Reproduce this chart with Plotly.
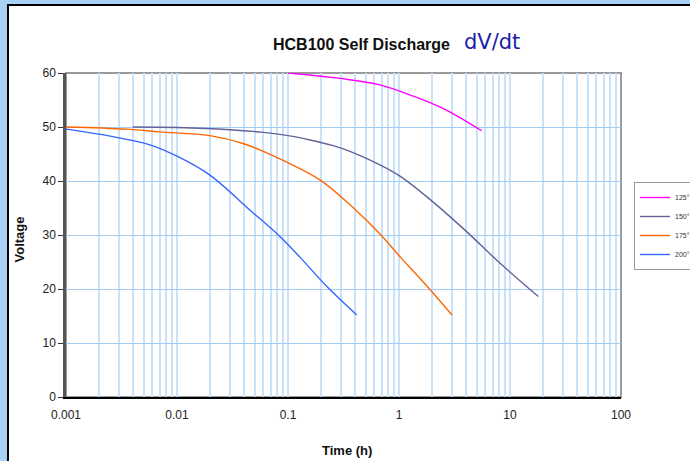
import plotly.graph_objects as go

# ---- data ----
t_125 = [0.1, 0.294, 0.674, 1.35, 2.69, 5.56]
v_125 = [60.0, 59.0, 57.8, 55.7, 53.1, 49.3]

t_150 = [0.004, 0.01, 0.03, 0.06, 0.1, 0.158, 0.25, 0.362, 0.674, 1.02, 1.9, 3.93, 8.1, 18.0]
v_150 = [50.0, 49.9, 49.5, 49.0, 48.4, 47.6, 46.6, 45.5, 43.0, 40.9, 36.6, 30.9, 24.8, 18.6]

t_175 = [0.001, 0.0035, 0.007, 0.0198, 0.04, 0.0973, 0.194, 0.362, 0.674, 1.02, 1.79, 3.0]
v_175 = [50.0, 49.6, 49.1, 48.4, 46.9, 43.5, 40.2, 35.6, 30.2, 26.0, 20.5, 15.2]

t_200 = [0.001, 0.0025, 0.0057, 0.01, 0.0198, 0.0455, 0.0818, 0.128, 0.223, 0.416]
v_200 = [49.6, 48.3, 46.7, 44.6, 41.1, 34.6, 30.0, 25.9, 20.5, 15.2]

series_names = ["125°", "150°", "175°", "200°"]
series_colors = ["#ff00ff", "#62629a", "#ff6600", "#3366ff"]

x_major = [0.001, 0.01, 0.1, 1, 10, 100]
x_major_labels = ["0.001", "0.01", "0.1", "1", "10", "100"]
x_minor = [m * d for d in [0.001, 0.01, 0.1, 1, 10] for m in range(2, 10)]
y_ticks = [0, 10, 20, 30, 40, 50, 60]

# ---- layout geometry ----
W, H = 690, 461
L, R, T, B = 66, 621, 73, 397
def px(x): return (x - L) / (R - L)
def py(y): return (B - y) / (B - T)

FONT = "Liberation Sans, Arial, sans-serif"
GRIDV = "#c9e2fa"
GRIDH = "#a3cdf6"

fig = go.Figure()
for t, v, n, c in zip([t_125, t_150, t_175, t_200], [v_125, v_150, v_175, v_200],
                      series_names, series_colors):
    fig.add_trace(go.Scatter(x=t, y=v, name=n, mode="lines",
                             line=dict(color=c, width=1.4, shape="spline", smoothing=1.0)))

fig.update_layout(
    width=W, height=H,
    margin=dict(l=L, r=W - R, t=T, b=H - B, pad=0, autoexpand=False),
    paper_bgcolor="white", plot_bgcolor="white",
    font=dict(family=FONT, size=12, color="#222"),
    showlegend=True,
    legend=dict(x=px(634), y=py(182), xanchor="left", yanchor="top",
                bordercolor="#9a9a9a", borderwidth=1, bgcolor="white",
                font=dict(size=7, color="#333"), itemwidth=30,
                tracegroupgap=0),
    xaxis=dict(type="log", range=[-3, 2], tickvals=x_major, ticktext=x_major_labels,
               showgrid=True, gridcolor=GRIDV, gridwidth=2,
               minor=dict(tickvals=x_minor, showgrid=True, gridcolor=GRIDV, gridwidth=2, ticks=""),
               showline=True, linecolor="#000", linewidth=1.5,
               ticks="", ticklabelstandoff=6,
               tickfont=dict(size=12, color="#222"), zeroline=False),
    yaxis=dict(range=[0, 60], tickvals=y_ticks,
               showgrid=True, gridcolor=GRIDH, gridwidth=1,
               showline=True, linecolor="#555", linewidth=2.5,
               ticks="outside", ticklen=5, tickcolor="#333", tickwidth=1,
               tickfont=dict(size=12, color="#222"), zeroline=False),
)

# frame (top/right gray)
fig.add_shape(type="rect", xref="paper", yref="paper", x0=0, x1=1, y0=0, y1=1,
              line=dict(color="#9a9a9a", width=2), layer="below")
# outer decorative border
fig.add_shape(type="rect", xref="paper", yref="paper", x0=px(0), x1=px(7), y0=py(H), y1=py(0),
              fillcolor="#a9d0f5", line=dict(width=0))
fig.add_shape(type="rect", xref="paper", yref="paper", x0=px(0), x1=px(W), y0=py(4), y1=py(0),
              fillcolor="#a9d0f5", line=dict(width=0))
fig.add_shape(type="line", xref="paper", yref="paper", x0=px(8), x1=px(8), y0=py(H), y1=py(4),
              line=dict(color="#000", width=2))
fig.add_shape(type="line", xref="paper", yref="paper", x0=px(7), x1=px(W), y0=py(5), y1=py(5),
              line=dict(color="#000", width=2))

# titles
fig.add_annotation(text="<b>HCB100 Self Discharge</b>", xref="paper", yref="paper",
                   x=px(361), y=py(44), xanchor="center", yanchor="middle", showarrow=False,
                   font=dict(size=16, color="#111", family=FONT))
fig.add_annotation(text="dV/dt", xref="paper", yref="paper",
                   x=px(492), y=py(42), xanchor="center", yanchor="middle", showarrow=False,
                   font=dict(size=21, color="#1c1caa", family="DejaVu Sans"))
fig.add_annotation(text="<b>Time (h)</b>", xref="paper", yref="paper",
                   x=px(347), y=py(450), xanchor="center", yanchor="middle", showarrow=False,
                   font=dict(size=13, color="#111", family=FONT))
fig.add_annotation(text="<b>Voltage</b>", xref="paper", yref="paper", textangle=-90,
                   x=px(18.5), y=py(240), xanchor="center", yanchor="middle", showarrow=False,
                   font=dict(size=13, color="#111", family=FONT))

fig.write_html("out.html", config={"displayModeBar": False},
               post_script="document.body.style.margin='0';document.body.style.overflow='hidden';")
